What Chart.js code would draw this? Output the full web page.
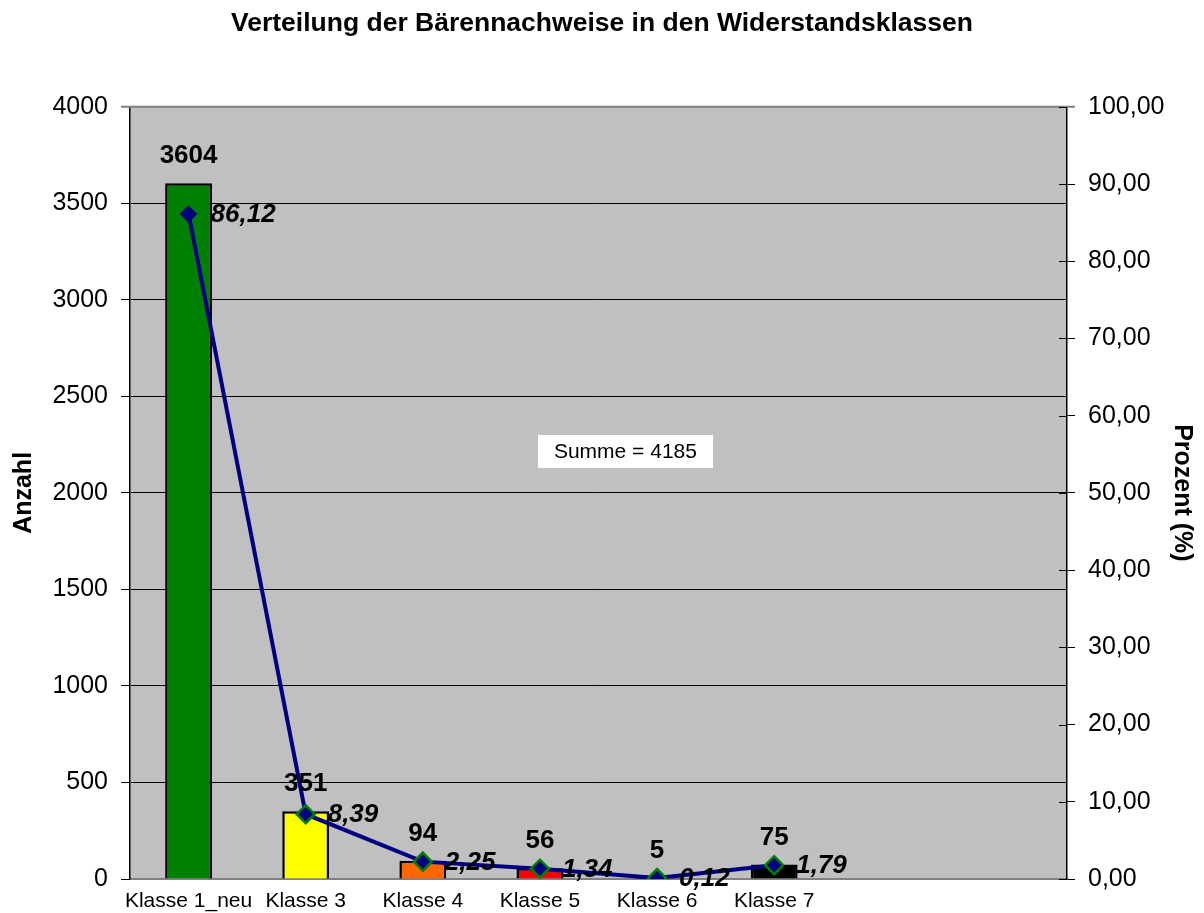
<!DOCTYPE html>
<html>
<head>
<meta charset="utf-8">
<script src="https://cdn.jsdelivr.net/npm/chart.js@4/dist/chart.umd.min.js"></script>
<style>
  html, body { margin: 0; padding: 0; background: #ffffff; }
  #wrap { width: 1204px; height: 913px; }
</style>
</head>
<body>
<div id="wrap"><canvas id="c" width="1204" height="913"></canvas></div>
<script>
// ---- data ----
const categories = ['Klasse 1_neu', 'Klasse 3', 'Klasse 4', 'Klasse 5', 'Klasse 6', 'Klasse 7', '', ''];
const counts = [3604, 351, 94, 56, 5, 75, null, null];
const percents = [86.12, 8.39, 2.25, 1.34, 0.12, 1.79, null, null];
const barColors = ['#008000', '#FFFF00', '#FF6600', '#FF0000', '#800080', '#000000', '#000000', '#000000'];
const leftTicks = [0, 500, 1000, 1500, 2000, 2500, 3000, 3500, 4000];
const rightTicks = [0, 10, 20, 30, 40, 50, 60, 70, 80, 90, 100];
const titleText = 'Verteilung der Bärennachweise in den Widerstandsklassen';

const FONT = '"Liberation Sans", Arial, Helvetica, sans-serif';
const total = counts.reduce((a, b) => a + (b || 0), 0);
const fmtComma = v => v.toFixed(2).replace('.', ',');

const plotBg = {
  id: 'plotBg',
  beforeDraw(chart) {
    const { ctx, chartArea: a } = chart;
    ctx.save();
    ctx.fillStyle = '#C0C0C0';
    ctx.fillRect(a.left, a.top, a.right - a.left, a.bottom - a.top);
    ctx.restore();
  },
  afterDraw(chart) {
    const { ctx, chartArea: a } = chart;
    ctx.save();
    ctx.strokeStyle = '#808080';
    ctx.lineWidth = 2;
    ctx.beginPath();
    ctx.moveTo(a.left - 9, a.top);
    ctx.lineTo(a.right + 8, a.top);
    ctx.stroke();
    const y1 = chart.scales.y1;
    ctx.strokeStyle = '#000000';
    ctx.lineWidth = 1;
    y1.ticks.forEach(t => {
      const py = Math.round(y1.getPixelForValue(t.value)) + 0.5;
      ctx.beginPath();
      ctx.moveTo(a.right - 8, py);
      ctx.lineTo(a.right, py);
      ctx.stroke();
    });
    const xs = chart.scales.x, ys = chart.scales.y;
    const cx = xs.getPixelForValue(3.73);
    const cy = ys.getPixelForValue(2215);
    const txt = 'Summe = ' + total;
    ctx.font = '21px ' + FONT;
    const w = ctx.measureText(txt).width + 32;
    const h = 33;
    ctx.fillStyle = '#ffffff';
    ctx.fillRect(Math.round(cx - w / 2), Math.round(cy - h / 2), Math.round(w), h);
    ctx.fillStyle = '#000000';
    ctx.textAlign = 'center';
    ctx.textBaseline = 'middle';
    ctx.fillText(txt, cx, cy + 1);
    ctx.restore();
  }
};

const valueLabels = {
  id: 'valueLabels',
  afterDatasetsDraw(chart) {
    const { ctx } = chart;
    ctx.save();
    ctx.fillStyle = '#000000';
    const mb = chart.getDatasetMeta(1);
    ctx.font = 'bold 26px ' + FONT;
    ctx.textAlign = 'center';
    ctx.textBaseline = 'middle';
    mb.data.forEach((el, i) => {
      if (counts[i] == null) return;
      ctx.fillText(String(counts[i]), el.x, el.y - 27);
    });
    const ml = chart.getDatasetMeta(0);
    ctx.font = 'italic bold 26px ' + FONT;
    ctx.textAlign = 'left';
    ml.data.forEach((el, i) => {
      if (percents[i] == null) return;
      ctx.fillText(fmtComma(percents[i]), el.x + 22, el.y + 1);
    });
    ctx.restore();
  }
};

new Chart(document.getElementById('c'), {
  data: {
    labels: categories,
    datasets: [
      {
        type: 'line',
        data: percents,
        yAxisID: 'y1',
        order: 0,
        borderColor: '#000080',
        borderWidth: 4,
        tension: 0,
        pointStyle: 'rectRot',
        pointRadius: [7, 9, 9, 9, 9, 9, 9, 9],
        pointBackgroundColor: '#000080',
        pointBorderColor: ['#000080', '#008000', '#008000', '#008000', '#008000', '#008000', '#008000', '#008000'],
        pointBorderWidth: 2.5,
        spanGaps: false
      },
      {
        type: 'bar',
        data: counts,
        yAxisID: 'y',
        order: 1,
        backgroundColor: barColors,
        borderColor: '#000000',
        borderWidth: 2.5,
        barPercentage: 0.4,
        categoryPercentage: 1
      }
    ]
  },
  options: {
    responsive: false,
    animation: false,
    devicePixelRatio: 1,
    layout: { padding: 0 },
    plugins: {
      legend: { display: false },
      tooltip: { enabled: false },
      title: {
        display: true,
        text: titleText,
        color: '#000000',
        font: { family: FONT, size: 26.5, weight: 'bold' },
        padding: { top: 8, bottom: 67 }
      }
    },
    scales: {
      x: {
        grid: { display: false, drawTicks: false },
        border: { display: true, color: '#808080', width: 2 },
        ticks: {
          color: '#000000',
          font: { family: FONT, size: 21 },
          padding: 10,
          maxRotation: 0,
          autoSkip: false
        },
        afterFit(s) { s.height = 34; }
      },
      y: {
        position: 'left',
        min: 0,
        max: 4000,
        afterBuildTicks(s) { s.ticks = leftTicks.map(v => ({ value: v })); },
        ticks: {
          color: '#000000',
          font: { family: FONT, size: 25 },
          padding: 13,
          callback: v => String(v)
        },
        grid: { color: '#000000', lineWidth: 1, drawTicks: true, tickLength: 9, tickColor: '#000000' },
        border: { display: true, color: '#000000', width: 1.5 },
        title: {
          display: true,
          text: 'Anzahl',
          color: '#000000',
          font: { family: FONT, size: 25, weight: 'bold' },
          padding: { top: 9, bottom: 0 }
        },
        afterFit(s) { s.width = 130; }
      },
      y1: {
        position: 'right',
        min: 0,
        max: 100,
        afterBuildTicks(s) { s.ticks = rightTicks.map(v => ({ value: v })); },
        ticks: {
          color: '#000000',
          font: { family: FONT, size: 25 },
          padding: 13,
          callback: v => fmtComma(v)
        },
        grid: { drawOnChartArea: false, drawTicks: true, tickLength: 8, tickColor: '#000000', color: '#000000' },
        border: { display: true, color: '#000000', width: 1.5 },
        title: {
          display: true,
          text: 'Prozent (%)',
          color: '#000000',
          font: { family: FONT, size: 25, weight: 'bold' },
          padding: { top: 7, bottom: 0 }
        },
        afterFit(s) { s.width = 137; }
      }
    }
  },
  plugins: [plotBg, valueLabels]
});
</script>
</body>
</html>
